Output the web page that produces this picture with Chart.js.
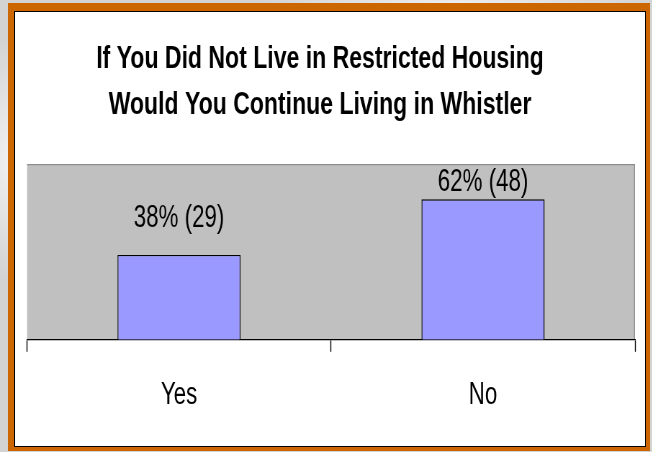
<!DOCTYPE html>
<html>
<head>
<meta charset="utf-8">
<title>Restricted Housing survey</title>
<script src="https://cdn.jsdelivr.net/npm/chart.js@4/dist/chart.umd.min.js"></script>
<style>
  html, body { margin: 0; padding: 0; }
  body {
    width: 652px; height: 452px; position: relative; overflow: hidden;
    background:
      radial-gradient(ellipse 60px 120px at 2% 35%, #f2f2f2 0, rgba(242,242,242,0) 100%),
      radial-gradient(ellipse 200px 20px at 70% 1%, #efefef 0, rgba(239,239,239,0) 100%),
      #d3d3d3;
  }
  #frame {
    position: absolute; left: 8px; top: 3px; width: 642px; height: 448px;
    background: #cc6600;
  }
  #panel {
    position: absolute; left: 14px; top: 11px; width: 630px; height: 434px;
    background: #fff; border: 1px solid #000; overflow: hidden;
  }
  /* chart is laid out wide and squeezed so the lettering comes out narrow */
  #stretch {
    position: absolute; left: -10px; top: 0; width: 889px; height: 434px;
    transform: scaleX(0.72); transform-origin: 0 0;
  }
</style>
</head>
<body>
<div id="frame"></div>
<div id="panel">
  <div id="stretch"><canvas id="housingChart"></canvas></div>
</div>
<script>
  // Answers and respondent counts
  const answers = ['Yes', 'No'];
  const counts = [29, 48];
  const percents = [38, 62];
  const titleLines = ['If You Did Not Live in Restricted Housing', 'Would You Continue Living in Whistler'];
  const countMax = 60;

  const pointLabels = counts.map((c, i) => `${percents[i]}% (${c})`);
  const fontFamily = '"Liberation Sans", Arial, sans-serif';

  // Grey plot background with a darker top and right edge
  const plotBackground = {
    id: 'plotBackground',
    beforeDraw(chart) {
      const { ctx, chartArea: { left, top, right, bottom } } = chart;
      ctx.save();
      ctx.fillStyle = '#c0c0c0';
      ctx.fillRect(left, top, right - left, bottom - top);
      ctx.strokeStyle = '#8c8c8c';
      ctx.lineWidth = 1.3;
      ctx.beginPath();
      ctx.moveTo(left, top + 0.5);
      ctx.lineTo(right - 0.7, top + 0.5);
      ctx.lineTo(right - 0.7, bottom);
      ctx.stroke();
      ctx.restore();
    }
  };

  // "38% (29)" style labels above each bar, kept inside the plot
  const valueLabels = {
    id: 'valueLabels',
    afterDatasetsDraw(chart) {
      const { ctx, chartArea } = chart;
      const meta = chart.getDatasetMeta(0);
      ctx.save();
      ctx.font = `31px ${fontFamily}`;
      ctx.fillStyle = '#000';
      ctx.textAlign = 'center';
      ctx.textBaseline = 'middle';
      meta.data.forEach((bar, i) => {
        const y = Math.max(bar.y - 36, chartArea.top + 18);
        ctx.fillText(pointLabels[i], bar.x, y);
      });
      ctx.restore();
    }
  };

  function drawChart() {
    const ctx = document.getElementById('housingChart').getContext('2d');
    new Chart(ctx, {
      type: 'bar',
      data: {
        labels: answers,
        datasets: [{
          data: counts,
          backgroundColor: '#9999ff',
          borderColor: '#000',
          borderWidth: 1.4,
          barPercentage: 0.405,
          categoryPercentage: 1
        }]
      },
      options: {
        responsive: true,
        maintainAspectRatio: false,
        animation: false,
        layout: { padding: { left: 0, right: 14, top: 0, bottom: 7 } },
        plugins: {
          legend: { display: false },
          tooltip: { enabled: false },
          title: {
            display: true,
            text: titleLines,
            color: '#000',
            font: { family: fontFamily, size: 32, weight: 'bold', lineHeight: 1.44 },
            padding: { top: 24, bottom: 36 }
          }
        },
        scales: {
          x: {
            grid: {
              display: true,
              offset: true,
              drawOnChartArea: false,
              color: '#000',
              tickLength: 12,
              tickWidth: 1.4
            },
            border: { display: true, color: '#000', width: 1.3 },
            ticks: {
              color: '#000',
              padding: 25,
              font: { family: fontFamily, size: 31 }
            }
          },
          y: {
            display: true,
            min: 0,
            max: countMax,
            grid: { display: false },
            border: { display: false },
            ticks: { display: false },
            // empty strip left of the plot
            afterFit(scale) { scale.width = 30.6; }
          }
        }
      },
      plugins: [plotBackground, valueLabels]
    });
  }

  window.onload = () => {
    drawChart();
  };
</script>
</body>
</html>
